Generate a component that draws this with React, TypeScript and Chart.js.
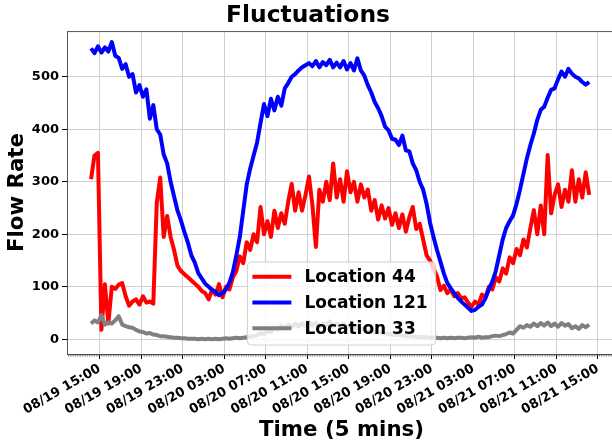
import React, { useEffect, useRef } from "react";
import { Chart, registerables } from "chart.js";

Chart.register(...registerables);

// Time axis: hours relative to 08/19 15:00; samples every 20 minutes starting 08/19 14:10
const START_HOUR = -5 / 6;
const STEP_HOURS = 1 / 3;

const xTickHours = [0, 4, 8, 12, 16, 20, 24, 28, 32, 36, 40, 44, 48];
const xTickLabels = [
  "08/19 15:00", "08/19 19:00", "08/19 23:00", "08/20 03:00", "08/20 07:00",
  "08/20 11:00", "08/20 15:00", "08/20 19:00", "08/20 23:00", "08/21 03:00",
  "08/21 07:00", "08/21 11:00", "08/21 15:00",
];
const yTickValues = [0, 100, 200, 300, 400, 500];

const seriesLabels = ["Location 44", "Location 121", "Location 33"];
const seriesColors = ["#ff0000", "#0000ff", "#808080"];

const location44 = [
  305, 350, 355, 18, 105, 30, 100, 96, 104, 107, 82, 64,
  72, 76, 66, 82, 70, 72, 68, 260, 308, 195, 235, 195,
  170, 140, 130, 124, 118, 112, 106, 100, 92, 88, 76, 95,
  85, 105, 80, 100, 95, 118, 130, 158, 145, 185, 170, 200,
  185, 252, 200, 225, 195, 245, 212, 240, 220, 262, 296, 245,
  280, 245, 275, 310, 255, 176, 285, 262, 300, 265, 335, 270,
  305, 262, 320, 280, 300, 262, 295, 270, 285, 245, 265, 228,
  255, 230, 250, 218, 240, 212, 238, 205, 232, 252, 210, 220,
  190, 160, 150, 135, 120, 94, 102, 88, 95, 82, 88, 78,
  80, 70, 62, 72, 66, 85, 80, 100, 95, 118, 110, 135,
  125, 156, 145, 172, 160, 190, 175, 212, 246, 200, 255, 200,
  351, 240, 275, 295, 252, 285, 262, 322, 262, 305, 270, 318,
  275,
];

const location121 = [
  554, 545, 558, 546, 556, 548, 566, 540, 536, 515, 524, 500,
  505, 470, 484, 462, 476, 420, 446, 400, 390, 352, 335, 300,
  272, 245, 226, 204, 184, 160, 146, 126, 116, 106, 100, 94,
  90, 84, 88, 95, 108, 128, 160, 195, 245, 295, 325, 350,
  375, 412, 448, 425, 458, 436, 462, 445, 478, 488, 500, 505,
  512, 518, 522, 526, 520, 530, 518, 528, 522, 532, 518, 527,
  518, 530, 514, 526, 512, 535, 512, 502, 484, 470, 452, 440,
  425, 405, 398, 382, 380, 370, 388, 360, 358, 335, 322, 300,
  285, 258, 222, 195, 170, 148, 125, 107, 97, 88, 79, 72,
  66, 60, 54, 56, 62, 66, 78, 95, 110, 130, 160, 190,
  212, 225, 236, 258, 285, 315, 345, 370, 392, 418, 437, 443,
  460, 475, 478, 495, 510, 500, 515, 506, 500, 497, 490, 485,
  490,
];

const location33 = [
  30, 36, 32, 46, 28, 32, 30, 36, 44, 28, 25, 23,
  22, 18, 15, 14, 11, 12, 9, 8, 6, 6, 5, 4,
  3, 3, 2, 2, 1, 1, 1, 0, 1, 0, 1, 0,
  1, 0, 1, 2, 1, 2, 3, 2, 3, 4, 5, 6,
  8, 12, 10, 16, 14, 22, 18, 26, 20, 28, 23, 30,
  24, 31, 25, 33, 26, 32, 24, 30, 27, 34, 25, 30,
  24, 30, 22, 27, 20, 24, 18, 21, 15, 18, 13, 15,
  12, 11, 10, 9, 8, 8, 7, 6, 6, 5, 5, 4,
  4, 4, 3, 3, 3, 2, 3, 2, 3, 2, 3, 3,
  2, 3, 4, 3, 5, 3, 4, 4, 6, 7, 6, 8,
  10, 13, 11, 18, 25, 22, 27, 24, 30, 25, 31, 26,
  32, 25, 30, 24, 31, 26, 29, 21, 25, 20, 27, 23,
  28,
];

const FONT = "'DejaVu Sans'";

const toPoints = (vals: number[]) =>
  vals.map((v, i) => ({ x: START_HOUR + i * STEP_HOURS, y: v }));

const framePlugin = {
  id: "frameAndMinor",
  afterDraw(chart: any) {
    const { ctx, chartArea } = chart;
    const xs = chart.scales.x;
    ctx.save();
    ctx.strokeStyle = "#555";
    ctx.lineWidth = 1;
    ctx.beginPath();
    ctx.moveTo(chartArea.left, chartArea.top + 0.5);
    ctx.lineTo(chartArea.right, chartArea.top + 0.5);
    ctx.moveTo(chartArea.right - 0.5, chartArea.top);
    ctx.lineTo(chartArea.right - 0.5, chartArea.bottom);
    ctx.stroke();
    ctx.strokeStyle = "#333";
    ctx.lineWidth = 0.6;
    ctx.beginPath();
    for (let m = Math.ceil(xs.min * 6); m <= Math.floor(xs.max * 6); m++) {
      const px = xs.getPixelForValue(m / 6);
      ctx.moveTo(px, chartArea.bottom);
      ctx.lineTo(px, chartArea.bottom + 2.5);
    }
    ctx.stroke();
    ctx.restore();
  },
};

const legendPlugin = {
  id: "boxLegend",
  afterDatasetsDraw(chart: any) {
    const { ctx, chartArea } = chart;
    const fontSize = 17;
    ctx.save();
    ctx.font = `bold ${fontSize}px ${FONT}`;
    const items = chart.data.datasets.map((ds: any) => ({ label: ds.label, color: ds.borderColor }));
    const textW = Math.max(...items.map((it: any) => ctx.measureText(it.label).width));
    const padL = 5, lineLen = 39, gap = 13, padR = 8;
    const rowH = 25.8, firstRow = 14.7, h = 83;
    const w = padL + lineLen + gap + textW + padR;
    const cx = (chartArea.left + chartArea.right) / 2;
    const x0 = cx - w / 2;
    const y1 = chartArea.bottom - 9;
    const y0 = y1 - h;
    const r = 4;
    ctx.beginPath();
    ctx.moveTo(x0 + r, y0);
    ctx.lineTo(x0 + w - r, y0);
    ctx.quadraticCurveTo(x0 + w, y0, x0 + w, y0 + r);
    ctx.lineTo(x0 + w, y1 - r);
    ctx.quadraticCurveTo(x0 + w, y1, x0 + w - r, y1);
    ctx.lineTo(x0 + r, y1);
    ctx.quadraticCurveTo(x0, y1, x0, y1 - r);
    ctx.lineTo(x0, y0 + r);
    ctx.quadraticCurveTo(x0, y0, x0 + r, y0);
    ctx.closePath();
    ctx.fillStyle = "rgba(255,255,255,0.8)";
    ctx.fill();
    ctx.strokeStyle = "#d0d0d0";
    ctx.lineWidth = 1;
    ctx.stroke();
    items.forEach((it: any, k: number) => {
      const cy = y0 + firstRow + k * rowH;
      ctx.strokeStyle = it.color;
      ctx.lineWidth = 4;
      ctx.beginPath();
      ctx.moveTo(x0 + padL, cy);
      ctx.lineTo(x0 + padL + lineLen, cy);
      ctx.stroke();
      ctx.fillStyle = "#000";
      ctx.textBaseline = "middle";
      ctx.textAlign = "left";
      ctx.fillText(it.label, x0 + padL + lineLen + gap, cy + 1);
    });
    ctx.restore();
  },
};

export default function App() {
  const ref = useRef<HTMLCanvasElement | null>(null);

  useEffect(() => {
    if (!ref.current) return;
    Chart.defaults.font.family = FONT;
    const tickFont = { family: FONT, size: 13, weight: "bold" as const };
    const chart = new Chart(ref.current, {
      type: "line",
      data: {
        datasets: [
          { label: seriesLabels[0], data: toPoints(location44), borderColor: seriesColors[0], order: 3 },
          { label: seriesLabels[1], data: toPoints(location121), borderColor: seriesColors[1], order: 2 },
          { label: seriesLabels[2], data: toPoints(location33), borderColor: seriesColors[2], order: 1 },
        ].map((d) => ({
          ...d,
          borderWidth: 4,
          pointRadius: 0,
          tension: 0,
          fill: false,
          borderJoinStyle: "round" as const,
        })),
      },
      options: {
        responsive: false,
        animation: false,
        layout: { padding: { left: 0, right: 4, top: 0, bottom: 0 } },
        plugins: {
          legend: { display: false },
          tooltip: { enabled: false },
          title: {
            display: true,
            text: "Fluctuations",
            color: "#000",
            font: { family: FONT, size: 23.4, weight: "bold" },
            padding: { top: 2, bottom: 1 },
          },
        },
        scales: {
          x: {
            type: "linear",
            min: -3.15,
            max: 49.75,
            afterBuildTicks: (scale: any) => {
              scale.ticks = xTickHours.map((v) => ({ value: v }));
            },
            afterFit: (scale: any) => {
              scale.height = 92;
            },
            ticks: {
              autoSkip: false,
              minRotation: 30,
              maxRotation: 30,
              color: "#000",
              font: tickFont,
              padding: 2,
              callback: (v: any) => {
                const idx = xTickHours.indexOf(Number(v));
                return idx >= 0 ? xTickLabels[idx] : "";
              },
            },
            grid: { color: "#cfcfcf", lineWidth: 1, tickColor: "#000", tickLength: 5 },
            border: { color: "#555", width: 1 },
            title: {
              display: true,
              text: "Time (5 mins)",
              color: "#000",
              font: { family: FONT, size: 21.3, weight: "bold" },
              padding: { top: 0, bottom: 3 },
            },
          },
          y: {
            type: "linear",
            min: -28,
            max: 587,
            afterBuildTicks: (scale: any) => {
              scale.ticks = yTickValues.map((v) => ({ value: v }));
            },
            afterFit: (scale: any) => {
              scale.width = 67;
            },
            ticks: { color: "#000", font: tickFont, padding: 3 },
            grid: { color: "#cfcfcf", lineWidth: 1, tickColor: "#000", tickLength: 5 },
            border: { color: "#555", width: 1 },
            title: {
              display: true,
              text: "Flow Rate",
              color: "#000",
              font: { family: FONT, size: 21.3, weight: "bold" },
              padding: { top: 5, bottom: 0 },
            },
          },
        },
      },
      plugins: [framePlugin, legendPlugin],
    });
    return () => chart.destroy();
  }, []);

  return (
    <div
      style={{
        position: "fixed",
        left: 0,
        top: 0,
        width: 612,
        height: 446,
        overflow: "hidden",
        background: "#fff",
      }}
    >
      <canvas ref={ref} width={620} height={446} style={{ display: "block", width: 620, height: 446 }} />
    </div>
  );
}
